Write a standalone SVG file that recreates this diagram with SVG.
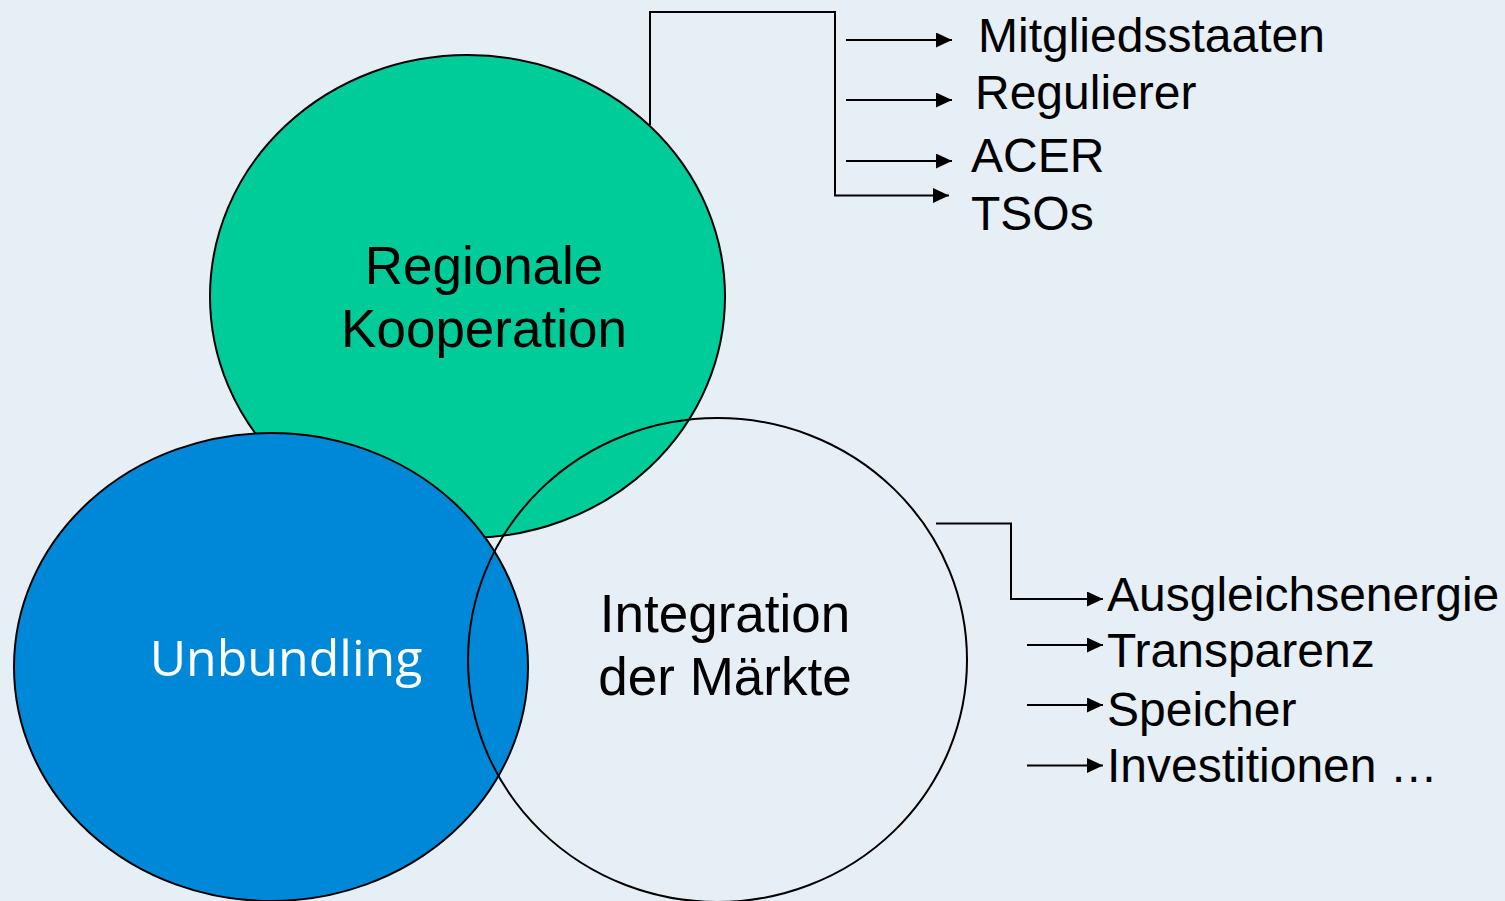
<svg xmlns="http://www.w3.org/2000/svg" width="1505" height="901" viewBox="0 0 1505 901">
<defs>
<style>
.lbl{font-family:"Liberation Sans",Arial,sans-serif;font-size:48px;fill:#000}
.big{font-size:53px}
.ln{fill:none;stroke:#000;stroke-width:2}
.el{stroke:#000;stroke-width:2}
</style>
<marker id="ah" viewBox="0 0 16 15" refX="16" refY="7.5" markerWidth="16" markerHeight="15" markerUnits="userSpaceOnUse" orient="auto">
<path d="M0,0 L16,7.5 L0,15 Z" fill="#000"/>
</marker>
</defs>
<rect width="1505" height="901" fill="#E6EEF6"/>
<g id="regionale">
<ellipse class="el" cx="467.5" cy="296.5" rx="257.5" ry="241.5" fill="#00CC99"/>
<text class="lbl big" x="484" y="284" text-anchor="middle">Regionale</text>
<text class="lbl big" x="484" y="347" text-anchor="middle">Kooperation</text>
</g>
<g id="unbundling">
<ellipse class="el" cx="271" cy="667" rx="257" ry="234" fill="#0088D8"/>
<text x="286" y="676" text-anchor="middle" style="font-family:'Open Sans','Noto Sans',sans-serif;font-size:50px;fill:#fff">Unbundling</text>
</g>
<g id="integration">
<ellipse class="el" cx="717.5" cy="660" rx="249.5" ry="242" fill="none"/>
<text class="lbl big" x="725" y="632" text-anchor="middle">Integration</text>
<text class="lbl big" x="725" y="695" text-anchor="middle">der Märkte</text>
</g>
<g id="connectors">
<polyline class="ln" points="650,125 650,12 835,12 835,195.5 949,195.5" marker-end="url(#ah)"/>
<line class="ln" x1="846" y1="40" x2="952" y2="40" marker-end="url(#ah)"/>
<line class="ln" x1="846" y1="100" x2="952" y2="100" marker-end="url(#ah)"/>
<line class="ln" x1="846" y1="161" x2="952" y2="161" marker-end="url(#ah)"/>
<polyline class="ln" points="936,523.5 1011,523.5 1011,599 1103,599" marker-end="url(#ah)"/>
<line class="ln" x1="1027" y1="645" x2="1103" y2="645" marker-end="url(#ah)"/>
<line class="ln" x1="1027" y1="705" x2="1103" y2="705" marker-end="url(#ah)"/>
<line class="ln" x1="1027" y1="765.5" x2="1103" y2="765.5" marker-end="url(#ah)"/>
</g>
<g id="labels-top">
<text class="lbl" x="978" y="52">Mitgliedsstaaten</text>
<text class="lbl" x="975" y="109">Regulierer</text>
<text class="lbl" x="971" y="172">ACER</text>
<text class="lbl" x="971" y="230">TSOs</text>
</g>
<g id="labels-bottom">
<text class="lbl" x="1107" y="611">Ausgleichsenergie</text>
<text class="lbl" x="1107" y="667">Transparenz</text>
<text class="lbl" x="1107" y="726">Speicher</text>
<text class="lbl" x="1107" y="782">Investitionen …</text>
</g>
</svg>
